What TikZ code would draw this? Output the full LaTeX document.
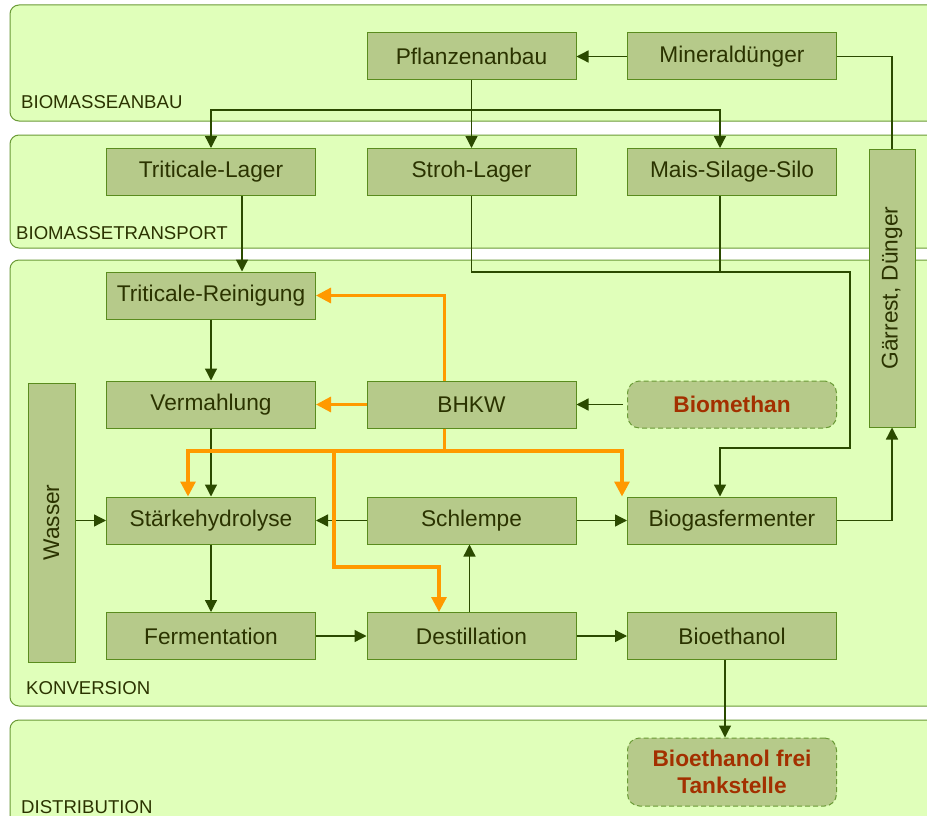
\documentclass[tikz,border=0pt]{standalone}
\usepackage{fontspec}
\setmainfont{Liberation Sans}
\usetikzlibrary{arrows.meta}
\definecolor{layerfill}{HTML}{E0FFBA}
\definecolor{layerline}{HTML}{6B9B37}
\definecolor{boxfill}{HTML}{B6CA8A}
\definecolor{boxline}{HTML}{5A8C1E}
\definecolor{boxtext}{HTML}{2B3300}
\definecolor{labeltext}{HTML}{2B3300}
\definecolor{goaltext}{HTML}{A33000}
\definecolor{flowline}{HTML}{2B4A00}
\definecolor{heatline}{HTML}{FF9900}
\begin{document}
\begin{tikzpicture}[x=1pt,y=-1pt,
  layer/.style={draw=layerline,fill=layerfill,line width=1pt,rounded corners=9pt},
  layerlabel/.style={anchor=base west,inner sep=0pt,text=labeltext,font=\fontsize{18.6}{20}\selectfont},
  box/.style={draw=boxline,fill=boxfill,line width=1pt,minimum width=209pt,minimum height=47pt,inner sep=0pt,text=boxtext,font=\fontsize{22.7}{27}\selectfont},
  goal/.style={box,draw=layerline,dash pattern=on 5pt off 3pt,rounded corners=12pt,text=goaltext,font=\bfseries\fontsize{22.7}{27}\selectfont,align=center},
  flow/.style={draw=flowline,line width=1.3pt,-{Triangle[length=12pt,width=12pt]}},
  link/.style={draw=flowline,line width=1.3pt},
  heat/.style={draw=heatline,line width=3.2pt,-{Triangle[length=15pt,width=15pt]}}]

		% Fix the page
		\useasboundingbox (0,0) rectangle (927,816);
		\fill[white] (0,0) rectangle (927,816);
		\clip (0,0) rectangle (927,816);

		% Draw layers
		\draw[layer] (10,5) rectangle (960,121);
		\draw[layer] (10,135) rectangle (960,248);
		\draw[layer] (10,260) rectangle (960,706);
		\draw[layer] (10,720) rectangle (960,840);
		\node[layerlabel] (lanbau) at (21,109) {BIOMASSEANBAU};
		\node[layerlabel] (ltransport) at (16,239) {BIOMASSETRANSPORT};
		\node[layerlabel] (lkonversion) at (26,694) {KONVERSION};
		\node[layerlabel] (ldistribution) at (21,813) {DISTRIBUTION};

		% Draw boxes
		\node[box] (pflanzen) at (471.5,56.5) {Pflanzenanbau};
		\node[box] (mineral) at (732,56.5) {Mineraldünger};
		\node[box] (tlager) at (211,172) {Triticale-Lager};
		\node[box] (stroh) at (471.5,172) {Stroh-Lager};
		\node[box] (silo) at (732,172) {Mais-Silage-Silo};
		\node[box,rotate=90,minimum width=278pt,minimum height=46pt] (gaerrest) at (892,288) {Gärrest, Dünger};
		\node[box] (treinig) at (211,295.5) {Triticale-Reinigung};
		\node[box] (vermahl) at (211,404.5) {Vermahlung};
		\node[box] (bhkw) at (471.5,404.5) {BHKW};
		\node[goal] (biomethan) at (732,404.5) {Biomethan};
		\node[box,rotate=90,minimum width=279pt] (wasser) at (51.5,522.5) {Wasser};
		\node[box] (staerke) at (211,520.5) {Stärkehydrolyse};
		\node[box] (schlempe) at (471.5,520.5) {Schlempe};
		\node[box] (biogas) at (732,520.5) {Biogasfermenter};
		\node[box] (ferment) at (211,636) {Fermentation};
		\node[box] (destill) at (471.5,636) {Destillation};
		\node[box] (bioeth) at (732,636) {Bioethanol};
		\node[goal,minimum height=68pt] (tank) at (732,772) {Bioethanol frei\\Tankstelle};

		% Define junctions
		\coordinate (split) at (471.5,110);
		\coordinate (r1) at (850,272);
		\coordinate (r2) at (850,448);
		\coordinate (hl) at (188,451);
		\coordinate (hr) at (622,451);
		\coordinate (hd) at (334,451);
		\coordinate (hd2) at (439,567);

		% Draw material flows
		\draw[flow] (mineral.west) -- (pflanzen.east);
		\draw[link] (mineral.east) -| (gaerrest.east);
		\draw[flow] (pflanzen.south) -- (stroh.north);
		\draw[flow] (split) -| (tlager.north);
		\draw[flow] (split) -| ([xshift=-12pt]silo.north);
		\draw[flow] ([xshift=31pt]tlager.south) -- ([xshift=31pt]treinig.north);
		\draw[flow] (stroh.south) |- (r1) -- (r2) -| ([xshift=-12pt]biogas.north);
		\draw[link] ([xshift=-12pt]silo.south) |- (r1);
		\draw[flow] (treinig.south) -- (vermahl.north);
		\draw[flow] (vermahl.south) -- (staerke.north);
		\draw[flow] ([xshift=-4pt]biomethan.west) -- (bhkw.east);
		\draw[flow] (wasser.south |- staerke.west) -- (staerke.west);
		\draw[flow] (schlempe.west) -- (staerke.east);
		\draw[flow] (schlempe.east) -- (biogas.west);
		\draw[flow] (biogas.east) -| (gaerrest.west);
		\draw[flow] (staerke.south) -- (ferment.north);
		\draw[flow] (ferment.east) -- (destill.west);
		\draw[flow] ([xshift=-2pt]destill.north) -- ([xshift=-2pt]schlempe.south);
		\draw[flow] (destill.east) -- (bioeth.west);
		\draw[flow] ([xshift=-7pt]bioeth.south) -- ([xshift=-7pt]tank.north);

		% Draw heat flows
		\draw[heat] ([xshift=-27pt]bhkw.north) |- (treinig.east);
		\draw[heat] (bhkw.west) -- (vermahl.east);
		\draw[heat] ([xshift=-27pt]bhkw.south) |- (hl) -- (hl |- staerke.north);
		\draw[heat] ([xshift=-27pt]bhkw.south) |- (hr) -- (hr |- biogas.north);
		\draw[heat] (hd) |- (hd2) -- (hd2 |- destill.north);

\end{tikzpicture}
\end{document}
